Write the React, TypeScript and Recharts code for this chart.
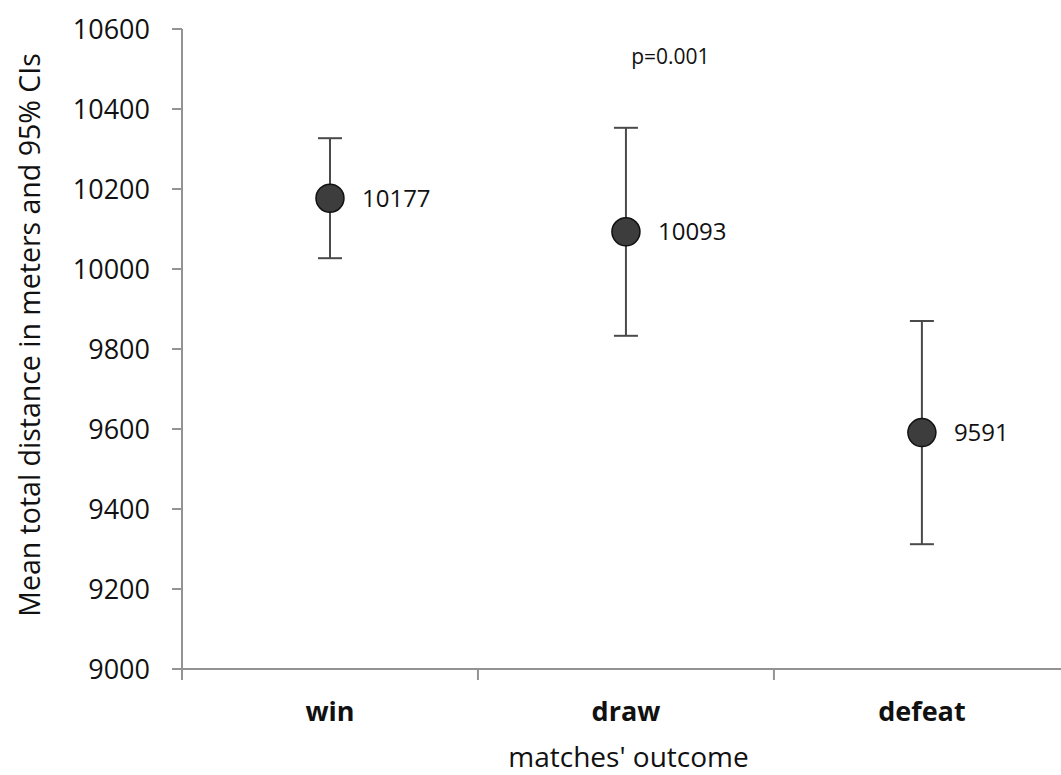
import React from 'react'
import { ErrorBar, LabelList, ReferenceDot, Scatter, ScatterChart, XAxis, YAxis, ZAxis } from 'recharts'

const outcomes = ['win', 'draw', 'defeat']
const means = [10177, 10093, 9591]
const ciHalf = [150, 260, 279]
const yTicks = [9000, 9200, 9400, 9600, 9800, 10000, 10200, 10400, 10600]
const xTicks = [0, 0.5, 1, 1.5, 2, 2.5]

const data = outcomes.map((name, i) => ({
    name,
    x: i + 0.5,
    mean: means[i],
    ci: ciHalf[i],
}))

const font = "'Open Sans', sans-serif"
const axisGrey = '#939393'

// boundary ticks get a short line, half ticks get the category name
const OutcomeTick = (props: any) => {
    const { x, y, payload } = props
    const v = payload.value as number
    if (Number.isInteger(v)) {
        return <line x1={x} x2={x} y1={y} y2={y + 11} stroke={axisGrey} strokeWidth={2} />
    }
    return (
        <text x={x} y={y + 52} textAnchor='middle' fill='#111' fontFamily={font} fontSize={27} fontWeight={700}>
            {outcomes[Math.floor(v)]}
        </text>
    )
}

const YLabel = (props: any) => {
    const { viewBox } = props
    const x = viewBox.x + 40
    const y = viewBox.y + viewBox.height / 2 - 14
    return (
        <text x={x} y={y} transform={`rotate(-90, ${x}, ${y})`} textAnchor='middle' fill='#111' fontFamily={font} fontSize={28.5}>
            Mean total distance in meters and 95% CIs
        </text>
    )
}

const App = () => {
    return (
        <div style={{ position: 'absolute', left: 0, top: 0, background: '#fff' }}>
            <ScatterChart width={1061} height={775} margin={{ top: 29, right: 0, bottom: 0, left: 0 }}>
                <XAxis
                    type='number'
                    dataKey='x'
                    domain={[0, 2.97]}
                    ticks={xTicks}
                    interval={0}
                    tick={<OutcomeTick />}
                    tickLine={false}
                    tickSize={0}
                    tickMargin={0}
                    height={106}
                    stroke={axisGrey}
                    strokeWidth={2}
                    label={{ value: "matches' outcome", position: 'insideBottom', offset: 8, dx: 7, fill: '#111', fontFamily: font, fontSize: 28 }}
                />
                <YAxis
                    type='number'
                    dataKey='mean'
                    domain={[9000, 10600]}
                    ticks={yTicks}
                    interval={0}
                    width={182}
                    tickSize={10}
                    tickMargin={22}
                    stroke={axisGrey}
                    strokeWidth={2}
                    tick={{ fill: '#111', fontFamily: font, fontSize: 27 }}
                    label={<YLabel />}
                />
                <ZAxis range={[616, 616]} />
                <ReferenceDot
                    x={1.65}
                    y={10530}
                    r={0}
                    fill='none'
                    stroke='none'
                    label={{ value: 'p=0.001', position: 'center', fill: '#111', fontFamily: font, fontSize: 21 }}
                />
                <Scatter
                    data={data}
                    dataKey='mean'
                    fill='#3d3d3d'
                    stroke='#111'
                    strokeWidth={1.5}
                    shape='circle'
                    isAnimationActive={false}
                >
                    <ErrorBar dataKey='ci' direction='y' width={12} stroke='#4a4a4a' strokeWidth={2} />
                    <LabelList dataKey='mean' position='right' offset={18} fill='#111' fontFamily={font} fontSize={24} />
                </Scatter>
            </ScatterChart>
        </div>
    )
}

export default App
